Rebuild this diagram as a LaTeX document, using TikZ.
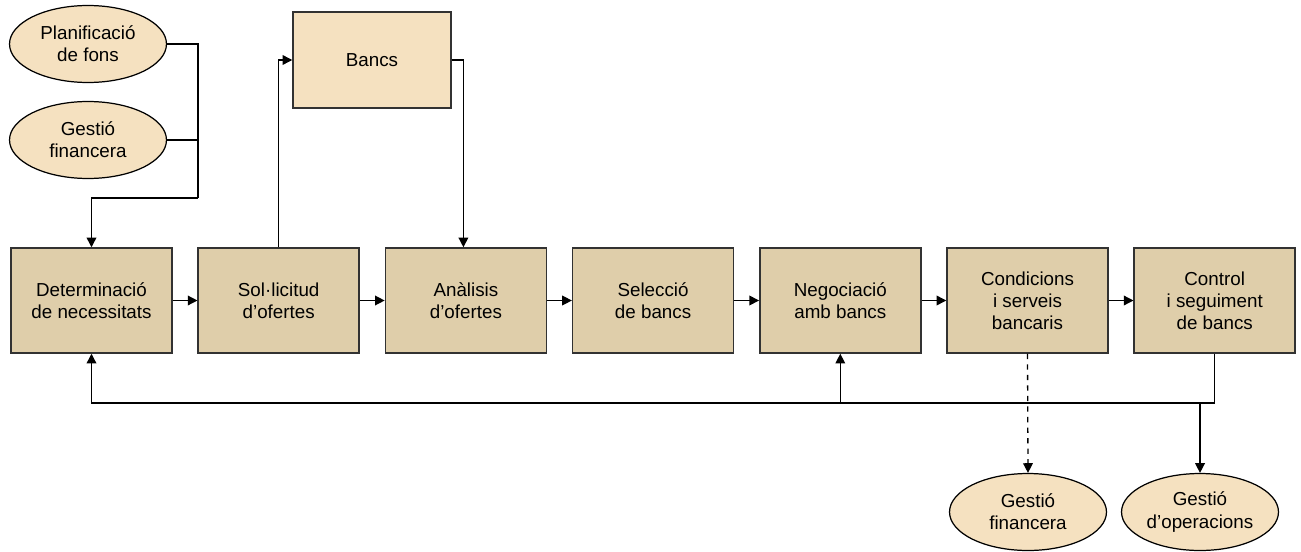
\documentclass[tikz,border=0pt]{standalone}
\usepackage{fontspec}
\setmainfont{Liberation Sans}
\usetikzlibrary{arrows.meta,shapes.geometric}
\definecolor{boxfill}{RGB}{223,206,170}
\definecolor{ovalfill}{RGB}{245,225,192}
\definecolor{edge}{RGB}{50,50,50}

\begin{document}
\begin{tikzpicture}[x=0.02cm,y=-0.02cm,
  proc/.style={draw=edge, fill=boxfill, line width=0.85pt, minimum width=3.22cm,
    minimum height=2.1cm, align=center, font=\fontsize{10.7}{12.6}\selectfont},
  bankbox/.style={proc, fill=ovalfill, minimum width=3.16cm, minimum height=1.92cm},
  oval/.style={ellipse, draw, fill=ovalfill, line width=0.7pt, inner sep=0pt,
    minimum width=3.14cm, minimum height=1.54cm, align=center,
    font=\fontsize{10.7}{12.6}\selectfont},
  link/.style={line width=0.75pt, -{Triangle[length=5.5pt,width=5.5pt]}},
  wire/.style={line width=0.75pt}]
\useasboundingbox (0,0) rectangle (1301,551);

% main chain
\node[proc] (det)  at (91.5,300.5)  {Determinació\\de necessitats};
\node[proc] (sol)  at (278.7,300.5) {Sol·licitud\\d’ofertes};
\node[proc] (ana)  at (465.9,300.5) {Anàlisis\\d’ofertes};
\node[proc] (sel)  at (653.1,300.5) {Selecció\\de bancs};
\node[proc] (neg)  at (840.3,300.5) {Negociació\\amb bancs};
\node[proc] (cond) at (1027.5,300.5) {Condicions\\i serveis\\bancaris};
\node[proc] (ctl)  at (1214.7,300.5) {Control\\i seguiment\\de bancs};

% inputs and outputs
\node[bankbox] (bancs) at (372,60) {Bancs};
\node[oval] (plan) at (88,44)  {Planificació\\de fons};
\node[oval] (gest) at (88,140) {Gestió\\financera};
\node[oval] (fin)  at (1028,512) {Gestió\\financera};
\node[oval] (opr)  at (1200,512) {Gestió\\d’operacions};

\coordinate (jn) at (198,198);
\coordinate (fb) at (640,403);

\draw[link] (det) -- (sol);
\draw[link] (sol) -- (ana);
\draw[link] (ana) -- (sel);
\draw[link] (sel) -- (neg);
\draw[link] (neg) -- (cond);
\draw[link] (cond) -- (ctl);

\draw[wire] (plan.east) -| (jn);
\draw[wire] (gest.east) -- (gest.east -| jn);
\draw[link] (jn) -| (det.north);

\draw[link] (sol.north) |- (bancs.west);
\draw[link] (bancs.east) -| ([xshift=-0.05cm]ana.north);

\draw[link] (ctl.south) |- (det.south |- fb) -- (det.south);
\draw[link] (neg.south |- fb) -- (neg.south);
\draw[link] (opr.north |- fb) -- (opr.north);
\draw[link, dashed] (cond.south) -- (fin.north);

\end{tikzpicture}
\end{document}
